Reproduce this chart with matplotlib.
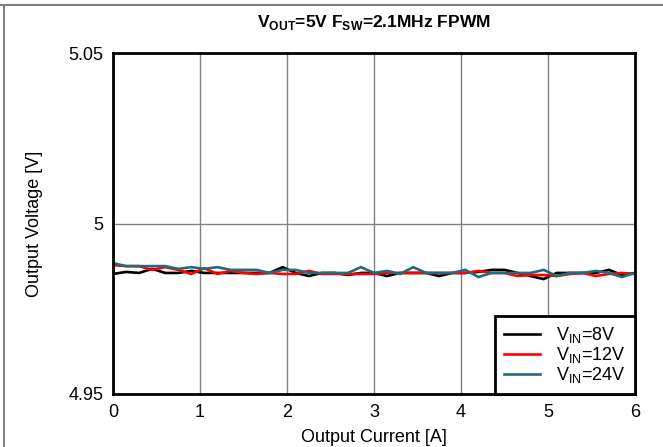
import matplotlib
matplotlib.use("Agg")
import matplotlib.pyplot as plt
from matplotlib.lines import Line2D

plt.rcParams['font.family'] = ['Liberation Sans', 'DejaVu Sans']

current = [0.0, 0.15, 0.3, 0.45, 0.6, 0.75, 0.9, 1.05, 1.2, 1.35, 1.5, 1.65, 1.8, 1.95,
           2.1, 2.25, 2.4, 2.55, 2.7, 2.85, 3.0, 3.15, 3.3, 3.45, 3.6, 3.75, 3.9, 4.05,
           4.2, 4.35, 4.5, 4.65, 4.8, 4.95, 5.1, 5.25, 5.4, 5.55, 5.7, 5.85, 6.0]

vin8 = [4.9852, 4.9858, 4.9855, 4.9867, 4.9855, 4.9855, 4.9861, 4.9855, 4.9855, 4.9855,
        4.9855, 4.9855, 4.9855, 4.9872, 4.9855, 4.9846, 4.9855, 4.9855, 4.9849, 4.9855,
        4.9855, 4.9846, 4.9855, 4.9855, 4.9855, 4.9846, 4.9855, 4.9855, 4.9858, 4.9864,
        4.9864, 4.9855, 4.9846, 4.9837, 4.9855, 4.9855, 4.9855, 4.9855, 4.9864, 4.9849,
        4.9855]

vin12 = [4.9878, 4.9875, 4.9875, 4.9864, 4.9872, 4.9864, 4.9852, 4.9869, 4.9852, 4.9861,
         4.9855, 4.9852, 4.9855, 4.9852, 4.9852, 4.9861, 4.9852, 4.9852, 4.9852, 4.9852,
         4.9852, 4.9855, 4.9855, 4.9855, 4.9855, 4.9855, 4.9855, 4.9855, 4.9861, 4.9855,
         4.9855, 4.9846, 4.9849, 4.9849, 4.9846, 4.9852, 4.9855, 4.9846, 4.9852, 4.9855,
         4.9852]

vin24 = [4.9884, 4.9875, 4.9875, 4.9875, 4.9875, 4.9867, 4.9872, 4.9867, 4.9872, 4.9864,
         4.9864, 4.9864, 4.9855, 4.9864, 4.9864, 4.9855, 4.9855, 4.9855, 4.9855, 4.9872,
         4.9855, 4.9861, 4.9852, 4.9872, 4.9855, 4.9855, 4.9855, 4.9864, 4.9843, 4.9855,
         4.9855, 4.9855, 4.9855, 4.9864, 4.9846, 4.9855, 4.9855, 4.9861, 4.9855, 4.9843,
         4.9855]

series_labels = [r'V$_{\mathregular{IN}}$=8V', r'V$_{\mathregular{IN}}$=12V', r'V$_{\mathregular{IN}}$=24V']
colors = ['#000000', '#ff0000', '#246b7a']

xticks = [0, 1, 2, 3, 4, 5, 6]
yticks = [4.95, 5.0, 5.05]
ytick_labels = ['4.95', '5', '5.05']

fig = plt.figure(figsize=(6.63, 4.47), dpi=100)
ax = fig.add_axes([113/663, 1 - 394/447, (635 - 113)/663, (394 - 53)/447])

for ys, lab, c in zip([vin8, vin12, vin24], series_labels, colors):
    ax.plot(current, ys, color=c, lw=1.9, label=lab, solid_joinstyle='miter')

ax.set_xlim(0, 6)
ax.set_ylim(4.95, 5.05)
ax.set_xticks(xticks)
ax.set_xticklabels([str(t) for t in xticks])
ax.set_yticks(yticks)
ax.set_yticklabels(ytick_labels)
ax.tick_params(length=0, labelsize=13, pad=7, colors='#000000')
ax.grid(True, color='#808080', lw=1)
ax.set_axisbelow(True)
for s in ax.spines.values():
    s.set_linewidth(2)
    s.set_color('black')

ax.set_xlabel('Output Current [A]', fontsize=13, labelpad=0)
ax.xaxis.set_label_coords(0.5, -(437 - 394) / (394 - 53), transform=ax.transAxes)
ax.xaxis.label.set_va('center')
ax.set_ylabel('Output Voltage [V]', fontsize=13)
ax.yaxis.set_label_coords(-(113 - 35) / (635 - 113), 0.5, transform=ax.transAxes)
ax.yaxis.label.set_va('center')

leg = ax.legend(loc='lower right', fontsize=13, frameon=True, fancybox=False,
                borderaxespad=0, handlelength=2.0, handletextpad=0.9,
                labelspacing=0.0, borderpad=0.5)
leg.get_frame().set_edgecolor('black')
leg.get_frame().set_linewidth(2)
leg.get_frame().set_alpha(1)

fig.text((113 + 635) / 2 / 663, 1 - 22 / 447,
         r'V$_{\mathregular{OUT}}$=5V F$_{\mathregular{SW}}$=2.1MHz FPWM',
         ha='center', va='center', fontsize=12.5, fontweight='bold')

# outer frame lines (top and left)
fig.add_artist(Line2D([0, 1], [1 - 5/447, 1 - 5/447], transform=fig.transFigure,
                      color='#808080', lw=1.5))
fig.add_artist(Line2D([4/663, 4/663], [0, 1 - 5/447], transform=fig.transFigure,
                      color='#808080', lw=1.5))

fig.savefig('out.png', dpi=100)
